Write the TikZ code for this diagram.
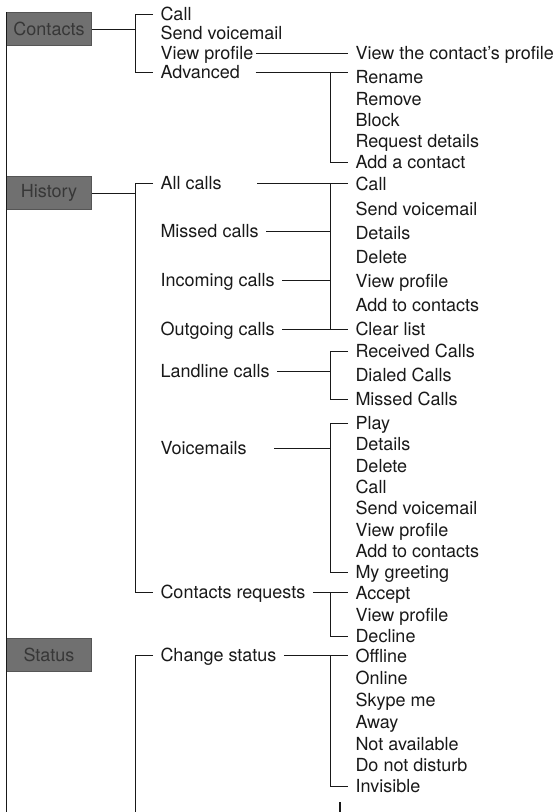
\documentclass[tikz,border=0pt]{standalone}
\usepackage{fontspec}
\setmainfont{TeX Gyre Heros}

\definecolor{catfill}{RGB}{112,112,112}
\definecolor{catline}{RGB}{85,85,85}
\definecolor{cattext}{RGB}{55,55,55}
\definecolor{ink}{RGB}{25,25,25}

\tikzset{every picture/.style={line width=1pt},
  cat/.style={rectangle, draw=catline, fill=catfill, text=cattext, anchor=north west,
    minimum width=85pt, minimum height=33pt, inner sep=0pt, font=\fontsize{18}{20}\selectfont},
  item/.style={anchor=west, inner xsep=7pt, inner ysep=0pt, text height=13pt, text depth=0pt,
    text=ink, font=\fontsize{18}{20}\selectfont}}

\begin{document}
\begin{tikzpicture}[x=1pt, y=-1pt, draw=ink]
        \useasboundingbox (0,0) rectangle (557,812);
        \coordinate (lvl1) at (135,0);
        \coordinate (lvl2) at (330,0);
        \coordinate (bottom) at (0,812);

        % categories
        \node[cat] (contacts) at (6,12) {Contacts};
        \node[cat] (history) at (6,176) {History};
        \node[cat] (status) at (6,638) {Status};
        \draw (contacts.north west) -- (contacts.north west |- bottom);

        % contacts
        \node[item] (c-call) at (153,14) {Call};
        \node[item] (c-voicemail) at (153,33) {Send voicemail};
        \node[item] (c-profile) at (153,53) {View profile};
        \node[item] (c-adv) at (153,72) {Advanced};
        \node[item] (c-viewcontact) at (348,53) {View the contact's profile};
        \node[item] (c-rename) at (348,77) {Rename};
        \node[item] (c-remove) at (348,99) {Remove};
        \node[item] (c-block) at (348,120) {Block};
        \node[item] (c-details) at (348,141) {Request details};
        \node[item] (c-addcontact) at (348,162) {Add a contact};
        \draw (contacts.east) -- (contacts.east -| lvl1);
        \draw (c-call.west) -| (lvl1 |- c-adv.west) -- (c-adv.west);
        \draw ([xshift=-5pt]c-profile.east) -- (c-viewcontact.west);
        \draw ([xshift=8pt]c-adv.east) -- (c-adv.east -| c-rename.west);
        \draw (c-adv.east -| lvl2) |- (c-addcontact.west);

        % history
        \node[item] (h-all) at (153,183) {All calls};
        \node[item] (h-missed) at (153,231) {Missed calls};
        \node[item] (h-in) at (153,280) {Incoming calls};
        \node[item] (h-out) at (153,329) {Outgoing calls};
        \node[item] (h-land) at (153,371) {Landline calls};
        \node[item] (h-voice) at (153,448) {Voicemails};
        \node[item] (h-req) at (153,592) {Contacts requests};
        \draw (history.east) -- (history.east -| lvl1);
        \draw (h-all.west) -| (lvl1 |- h-req.west) -- (h-req.west);

        \node[item] (k-call) at (348,184) {Call};
        \node[item] (k-voicemail) at (348,209) {Send voicemail};
        \node[item] (k-details) at (348,233) {Details};
        \node[item] (k-delete) at (348,257) {Delete};
        \node[item] (k-profile) at (348,281) {View profile};
        \node[item] (k-add) at (348,305) {Add to contacts};
        \node[item] (k-clear) at (348,329) {Clear list};
        \draw ([xshift=28pt]h-all.east) -- (h-all.east -| k-call.west);
        \draw (h-missed.east) -- (h-missed.east -| lvl2);
        \draw (h-in.east) -- (h-in.east -| lvl2);
        \draw (h-out.east) -- (h-out.east -| lvl2);
        \draw (h-all.east -| lvl2) |- (k-clear.west);

        \node[item] (l-recv) at (348,351) {Received Calls};
        \node[item] (l-dialed) at (348,375) {Dialed Calls};
        \node[item] (l-missed) at (348,399) {Missed Calls};
        \draw (h-land.east) -- (h-land.east -| lvl2);
        \draw (l-recv.west) -| (lvl2 |- l-missed.west) -- (l-missed.west);

        \node[item] (v-play) at (348,423) {Play};
        \node[item] (v-details) at (348,444) {Details};
        \node[item] (v-delete) at (348,466) {Delete};
        \node[item] (v-call) at (348,487) {Call};
        \node[item] (v-voicemail) at (348,508) {Send voicemail};
        \node[item] (v-profile) at (348,530) {View profile};
        \node[item] (v-add) at (348,551) {Add to contacts};
        \node[item] (v-greet) at (348,572) {My greeting};
        \draw ([xshift=20pt]h-voice.east) -- (h-voice.east -| lvl2);
        \draw (v-play.west) -| (lvl2 |- v-greet.west) -- (v-greet.west);

        \node[item] (r-accept) at (348,593) {Accept};
        \node[item] (r-profile) at (348,615) {View profile};
        \node[item] (r-decline) at (348,636) {Decline};
        \draw (h-req.east) -- (h-req.east -| r-accept.west);
        \draw (h-req.east -| lvl2) |- (r-decline.west);

        % status
        \node[item] (s-change) at (153,655) {Change status};
        \draw (s-change.west) -| (lvl1 |- bottom);
        \node[item] (o-offline) at (348,656) {Offline};
        \node[item] (o-online) at (348,678) {Online};
        \node[item] (o-skype) at (348,700) {Skype me};
        \node[item] (o-away) at (348,722) {Away};
        \node[item] (o-na) at (348,744) {Not available};
        \node[item] (o-dnd) at (348,765) {Do not disturb};
        \node[item] (o-invisible) at (348,786) {Invisible};
        \draw (s-change.east) -- (s-change.east -| o-offline.west);
        \draw (s-change.east -| lvl2) |- (o-invisible.west);
        \coordinate (stub) at (340,802);
        \draw[line width=1.5pt] (stub) -- (stub |- bottom);
    \end{tikzpicture}
\end{document}
